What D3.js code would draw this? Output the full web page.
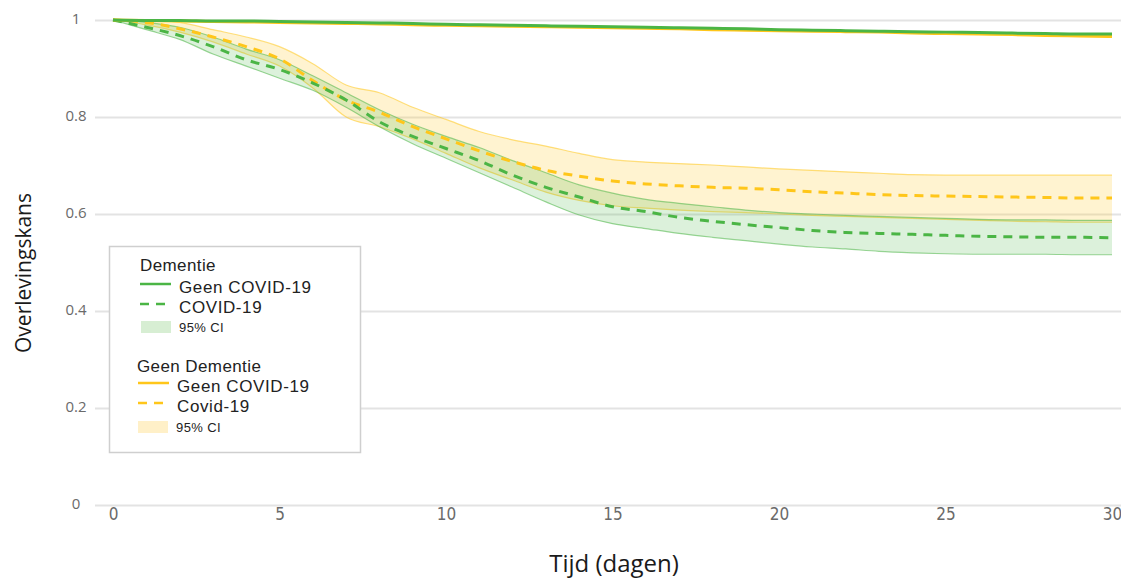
<!DOCTYPE html>
<html>
<head>
<meta charset="utf-8">
<script src="https://cdn.jsdelivr.net/npm/d3@7"></script>
<style>
  body { margin: 0; background: #fff; }
  svg { display: block; }
  .grid line { stroke: #e3e3e3; stroke-width: 2px; }
  .grid path { display: none; }
  .ytick text { font-family: "Open Sans", sans-serif; font-size: 15px; fill: #6a6a6a; }
  .xtick text { font-family: "Liberation Sans Narrow", "DejaVu Sans Condensed", sans-serif; font-size: 17px; fill: #6a6a6a; }
  .axis-title { font-family: "Open Sans", sans-serif; fill: #1a1a1a; }
  .legend text { font-family: "Liberation Sans", sans-serif; fill: #222; }
</style>
</head>
<body>
<div id="chart"></div>
<script>
// days 0..30
var days = d3.range(0, 31);

// Dementie
var demGeenCovid = [1.0, 0.999, 0.999, 0.998, 0.998, 0.997, 0.996, 0.995, 0.994, 0.993, 0.991, 0.990, 0.989, 0.988, 0.987, 0.986,
  0.985, 0.984, 0.983, 0.982, 0.980, 0.979, 0.978, 0.977, 0.976, 0.975, 0.974, 0.973, 0.972, 0.971, 0.971];
var demCovid = [1.0, 0.985, 0.968, 0.945, 0.918, 0.898, 0.87, 0.835, 0.79, 0.76, 0.735, 0.71, 0.68, 0.655, 0.635, 0.615,
  0.605, 0.593, 0.585, 0.578, 0.572, 0.566, 0.562, 0.56, 0.558, 0.556, 0.554, 0.553, 0.552, 0.552, 0.551];
var demCovidLo = [1.0, 0.98, 0.96, 0.93, 0.905, 0.88, 0.855, 0.82, 0.78, 0.745, 0.715, 0.685, 0.655, 0.625, 0.598, 0.58,
  0.57, 0.56, 0.552, 0.545, 0.538, 0.532, 0.528, 0.523, 0.52, 0.518, 0.517, 0.517, 0.517, 0.516, 0.516];
var demCovidHi = [1.0, 0.995, 0.985, 0.965, 0.94, 0.918, 0.885, 0.85, 0.815, 0.785, 0.76, 0.737, 0.71, 0.685, 0.66, 0.643,
  0.63, 0.622, 0.615, 0.608, 0.603, 0.6, 0.597, 0.595, 0.593, 0.591, 0.589, 0.588, 0.588, 0.587, 0.587];

// Geen Dementie
var geenGeenCovid = [1.0, 0.999, 0.998, 0.997, 0.996, 0.995, 0.994, 0.993, 0.992, 0.990, 0.989, 0.988, 0.987, 0.986, 0.985, 0.984,
  0.983, 0.982, 0.980, 0.979, 0.978, 0.977, 0.976, 0.975, 0.973, 0.972, 0.971, 0.970, 0.968, 0.967, 0.966];
var geenCovid = [1.0, 0.995, 0.982, 0.965, 0.945, 0.92, 0.875, 0.835, 0.81, 0.78, 0.755, 0.73, 0.708, 0.69, 0.678, 0.668,
  0.662, 0.658, 0.655, 0.653, 0.65, 0.646, 0.643, 0.64, 0.638, 0.637, 0.636, 0.635, 0.634, 0.633, 0.633];
var geenCovidLo = [1.0, 0.99, 0.975, 0.955, 0.93, 0.905, 0.86, 0.8, 0.78, 0.755, 0.725, 0.695, 0.67, 0.645, 0.628, 0.617,
  0.612, 0.608, 0.605, 0.603, 0.6, 0.597, 0.595, 0.593, 0.591, 0.589, 0.587, 0.585, 0.584, 0.583, 0.583];
var geenCovidHi = [1.0, 1.0, 0.995, 0.98, 0.965, 0.945, 0.91, 0.866, 0.85, 0.82, 0.795, 0.77, 0.753, 0.74, 0.725, 0.712,
  0.707, 0.704, 0.701, 0.697, 0.693, 0.69, 0.687, 0.684, 0.681, 0.68, 0.68, 0.68, 0.68, 0.68, 0.68];

var xTicks = [0, 5, 10, 15, 20, 25, 30];
var yTicks = [0, 0.2, 0.4, 0.6, 0.8, 1];

var green = "#4bb545", yellow = "#ffc61a";
var width = 1121, height = 581;

var svg = d3.select("#chart").append("svg")
  .attr("width", width)
  .attr("height", height);

var x = d3.scaleLinear().domain([0, 30]).range([113, 1112]);
var y = d3.scaleLinear().domain([0, 1]).range([505, 20]);

/* grid lines */
svg.append("g")
  .attr("class", "grid")
  .attr("transform", "translate(1121,0)")
  .call(d3.axisLeft(y).tickValues(yTicks).tickSize(1121 - 95).tickFormat(""));

/* y labels */
var yg = svg.append("g")
  .attr("class", "ytick")
  .attr("transform", "translate(76,0)")
  .call(d3.axisLeft(y).tickValues(yTicks).tickSize(0).tickFormat(d3.format("~g")));
yg.select(".domain").remove();
yg.selectAll("text").attr("text-anchor", "middle").attr("x", 0).attr("dy", "0.2em");

/* x labels */
var xg = svg.append("g")
  .attr("class", "xtick")
  .attr("transform", "translate(0,514)")
  .call(d3.axisBottom(x).tickValues(xTicks).tickSize(0));
xg.select(".domain").remove();
xg.selectAll("text").attr("dy", "0.2em");

/* axis titles */
svg.append("text")
  .attr("class", "axis-title")
  .attr("x", 614).attr("y", 572)
  .attr("font-size", 24)
  .attr("text-anchor", "middle")
  .text("Tijd (dagen)");

svg.append("text")
  .attr("class", "axis-title")
  .attr("font-size", 21)
  .attr("transform", "translate(31,273) rotate(-90)")
  .attr("text-anchor", "middle")
  .text("Overlevingskans");

function lineOf(vals) {
  return d3.line().x(function (d) { return x(d); }).y(function (d) { return y(vals[d]); }).curve(d3.curveMonotoneX)(days);
}
function areaOf(lo, hi) {
  return d3.area().x(function (d) { return x(d); })
    .y0(function (d) { return y(lo[d]); })
    .y1(function (d) { return y(hi[d]); })
    .curve(d3.curveMonotoneX)(days);
}

/* confidence bands */
var bands = [
  {lo: geenCovidLo, hi: geenCovidHi, fill: "rgba(255,200,40,0.22)", stroke: yellow},
  {lo: demCovidLo, hi: demCovidHi, fill: "rgba(80,185,75,0.2)", stroke: green}
];
bands.forEach(function (b) {
  svg.append("path").attr("d", areaOf(b.lo, b.hi)).attr("fill", b.fill).attr("stroke", "none");
  [b.lo, b.hi].forEach(function (v) {
    svg.append("path").attr("d", lineOf(v)).attr("fill", "none")
      .attr("stroke", b.stroke).attr("stroke-opacity", 0.55).attr("stroke-width", 1.2);
  });
});

/* survival curves */
var curves = [
  {vals: geenCovid, color: yellow, dash: "9,7"},
  {vals: demCovid, color: green, dash: "9,7"},
  {vals: geenGeenCovid, color: yellow, dash: null},
  {vals: demGeenCovid, color: green, dash: null}
];
curves.forEach(function (c) {
  svg.append("path").attr("d", lineOf(c.vals)).attr("fill", "none")
    .attr("stroke", c.color).attr("stroke-width", 3)
    .attr("stroke-dasharray", c.dash);
});

/* legend */
var lg = svg.append("g").attr("class", "legend");
lg.append("rect").attr("x", 109.5).attr("y", 246.5).attr("width", 251).attr("height", 206)
  .attr("fill", "#fff").attr("stroke", "#cfcfcf").attr("stroke-width", 1.5);

var legendItems = [
  {type: "head", text: "Dementie", x: 140, y: 265},
  {type: "line", color: green, dash: null, text: "Geen COVID-19", x: 140, y: 287},
  {type: "line", color: green, dash: "9,7", text: "COVID-19", x: 140, y: 307},
  {type: "band", color: "#d7eed3", text: "95% CI", x: 141, y: 327},
  {type: "head", text: "Geen Dementie", x: 137, y: 366},
  {type: "line", color: yellow, dash: null, text: "Geen COVID-19", x: 138, y: 386},
  {type: "line", color: yellow, dash: "9,7", text: "Covid-19", x: 138, y: 406},
  {type: "band", color: "#fff0c8", text: "95% CI", x: 138, y: 427}
];
legendItems.forEach(function (it) {
  if (it.type === "head") {
    lg.append("text").attr("x", it.x).attr("y", it.y).attr("dy", "0.35em")
      .attr("font-size", 17).attr("letter-spacing", 0.4).text(it.text);
  } else if (it.type === "line") {
    lg.append("line").attr("x1", it.x).attr("x2", it.x + 31).attr("y1", it.y - 3).attr("y2", it.y - 3)
      .attr("stroke", it.color).attr("stroke-width", 2.5).attr("stroke-dasharray", it.dash);
    lg.append("text").attr("x", it.x + 39).attr("y", it.y).attr("dy", "0.35em")
      .attr("font-size", 17).attr("letter-spacing", 0.6).text(it.text);
  } else {
    lg.append("rect").attr("x", it.x).attr("y", it.y - 6).attr("width", 30).attr("height", 12)
      .attr("fill", it.color);
    lg.append("text").attr("x", it.x + 38).attr("y", it.y).attr("dy", "0.35em")
      .attr("font-size", 13).attr("letter-spacing", 0.4).text(it.text);
  }
});
</script>
</body>
</html>
